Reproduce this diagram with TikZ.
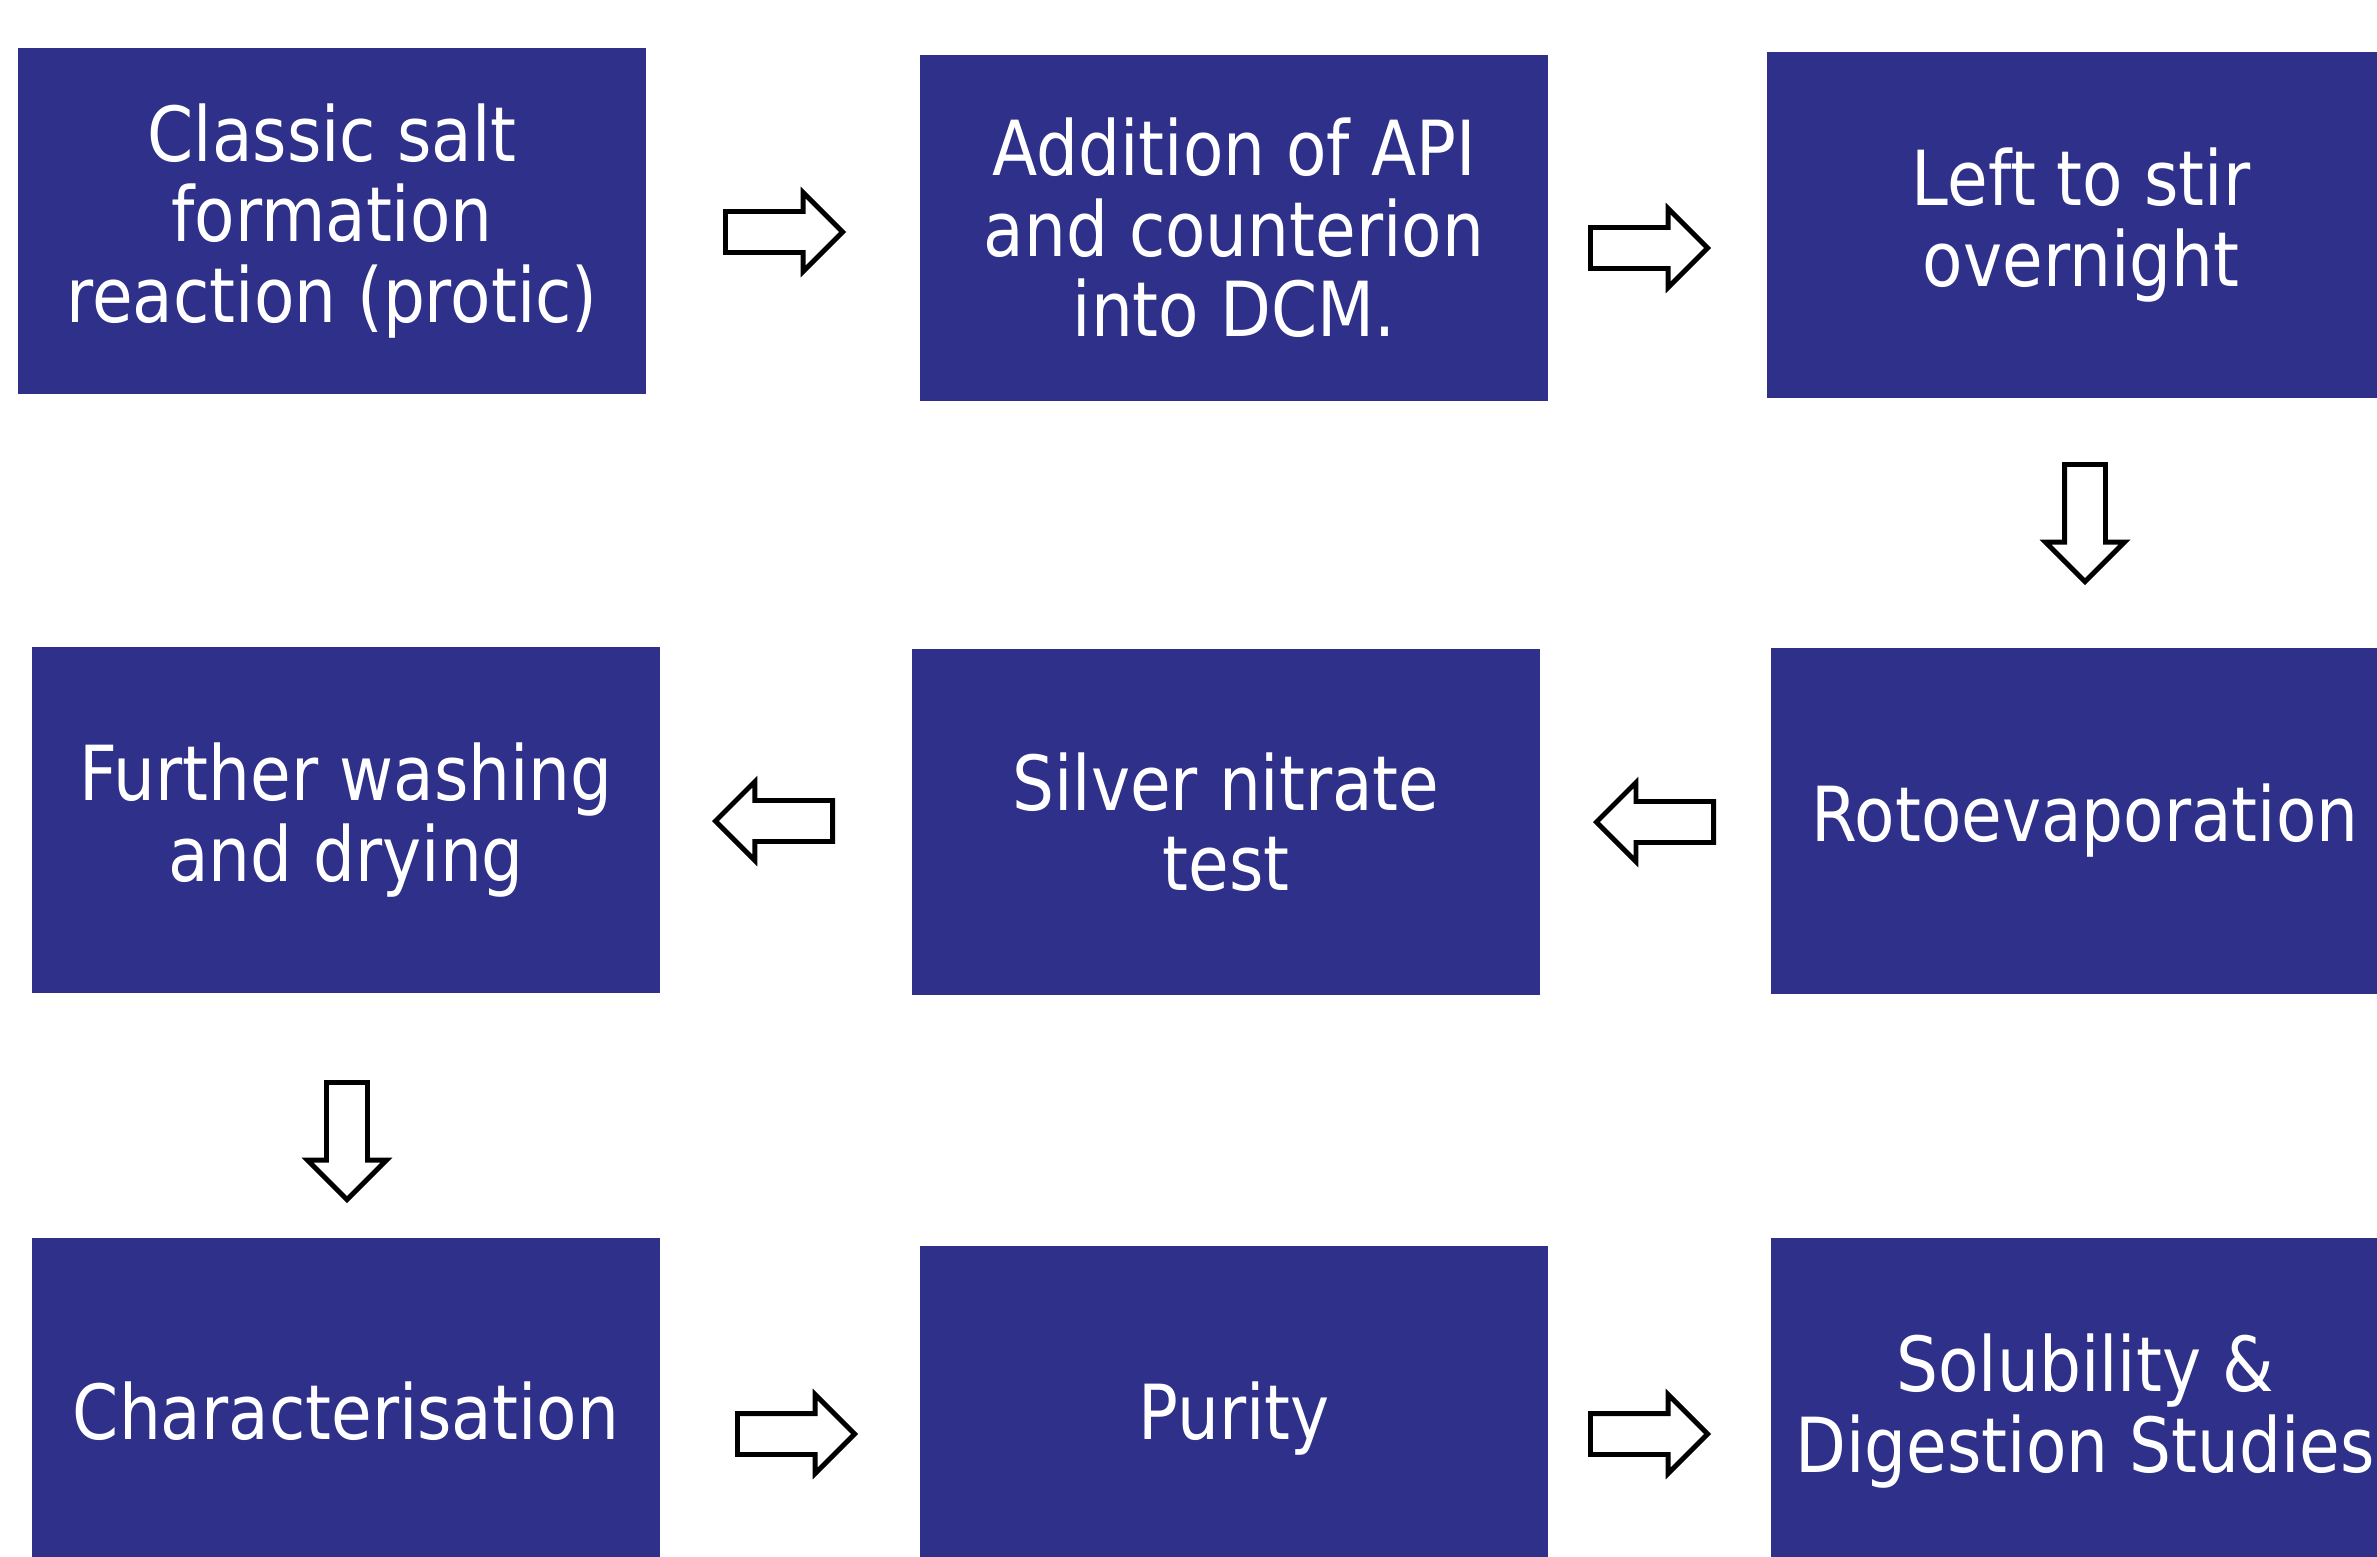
\documentclass[tikz,border=0pt]{standalone}
\usepackage{fontspec}
\setmainfont[FakeStretch=0.87]{DejaVu Sans}
\usepackage{xcolor}
\usepackage{tikz}
\usetikzlibrary{shapes.arrows,calc}

\definecolor{stepblue}{RGB}{46,48,137}

\begin{document}
\begin{tikzpicture}[
  x=0.01cm, y=-0.01cm,
  stepbox/.style = {fill=stepblue, text=white,
                    minimum width=6.28cm, minimum height=3.46cm,
                    inner sep=0pt, align=center,
                    font=\fontsize{21.6}{22.9}\selectfont},
  barrow/.style  = {single arrow, draw=black, fill=white, line width=1.4pt,
                    minimum height=1.17cm, inner sep=0.18cm,
                    single arrow head extend=0.19cm,
                    shape border rotate=#1, anchor=tail},
  barrow/.default = 0,
]

\useasboundingbox (0,0) rectangle (2377,1557);
\clip (0,0) rectangle (2377,1557);
\fill[white] (0,0) rectangle (2377,1557);

%% ── TOP ROW ─────────────────────────────────────────────────────────────
\node[stepbox] (salt)  at (332,221)  {Classic salt\\formation\\reaction (protic)};
\node[stepbox] (add)   at (1234,228) {Addition of API\\and counterion\\into DCM.};
\node[stepbox] (stir)  at (2081,225) {Left to stir\\overnight};

%% ── MIDDLE ROW ──────────────────────────────────────────────────────────
\node[stepbox] (wash)  at (346,820)  {Further washing\\and drying};
\node[stepbox] (agno)  at (1226,822) {Silver nitrate\\test};
\node[stepbox] (roto)  at (2085,821) {Rotoevaporation};

%% ── BOTTOM ROW ──────────────────────────────────────────────────────────
\node[stepbox] (char)  at (346,1411) {Characterisation};
\node[stepbox] (pure)  at (1234,1419) {Purity};
\node[stepbox] (solub) at (2085,1411) {Solubility \&\\Digestion Studies};

%% ── BLOCK ARROWS (placed by their tails) ────────────────────────────────
\node[barrow]     (a1) at (723,232)   {};
\node[barrow]     (a2) at (1588,248)  {};
\node[barrow=270] (a3) at (2085,462)  {};
\node[barrow=180] (a4) at (1716,822)  {};
\node[barrow=180] (a5) at (835,821)   {};
\node[barrow=270] (a6) at (347,1080)  {};
\node[barrow]     (a7) at (735,1434)  {};
\node[barrow]     (a8) at (1588,1434) {};

\end{tikzpicture}
\end{document}
